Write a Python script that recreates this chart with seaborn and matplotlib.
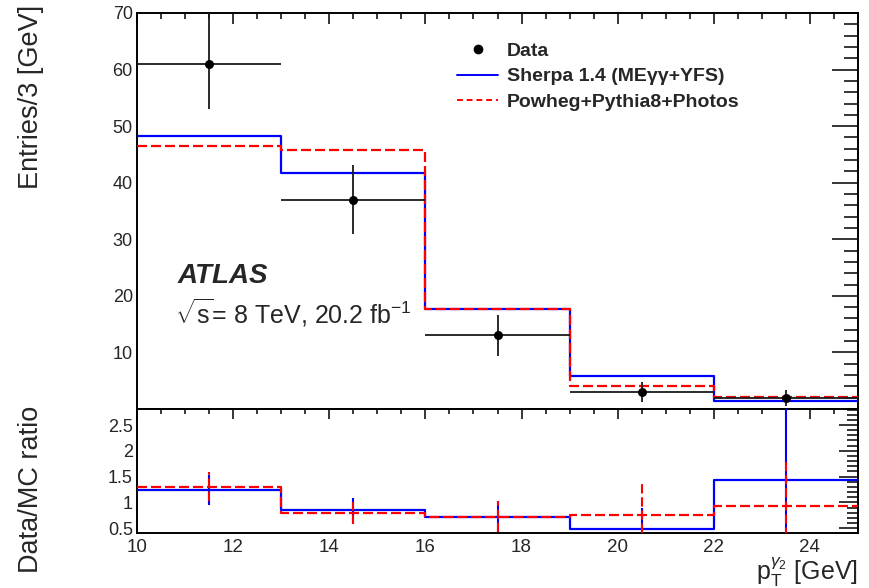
import numpy as np
import pandas as pd
import matplotlib
matplotlib.use("Agg")
import matplotlib.pyplot as plt
import seaborn as sns
from matplotlib.lines import Line2D
from matplotlib.font_manager import FontProperties
from matplotlib.ticker import MultipleLocator, FixedLocator, FuncFormatter

# Binning in photon pT (GeV)
bin_edges = [10, 13, 16, 19, 22, 25]

# Measured events per bin with asymmetric uncertainties
data_counts = [61, 37, 13, 3, 2]
data_err_up = [9.0, 6.2, 3.7, 1.7, 1.4]
data_err_down = [7.9, 6.0, 3.7, 1.7, 1.4]

# Generator predictions per bin
sherpa_pred = [48.3, 41.7, 17.7, 5.8, 1.4]
powheg_pred = [46.5, 45.8, 17.7, 4.0, 2.15]

# Data / MC ratios and their uncertainties
ratio_sherpa = [1.24, 0.85, 0.72, 0.49, 1.44]
ratio_sherpa_err = [0.29, 0.23, 0.30, 0.40, 1.50]
ratio_powheg = [1.30, 0.79, 0.72, 0.75, 0.93]
ratio_powheg_err = [0.28, 0.21, 0.30, 0.60, 0.85]

legend_labels = ["Data", "Sherpa 1.4 (MEγγ+YFS)", "Powheg+Pythia8+Photos"]

sns.set_style("white")
plt.rcParams["font.family"] = ["Liberation Sans", "DejaVu Sans"]
plt.rcParams["mathtext.fontset"] = "custom"
plt.rcParams["mathtext.rm"] = "Liberation Sans"
plt.rcParams["mathtext.it"] = "Liberation Sans:italic"
plt.rcParams["mathtext.bf"] = "Liberation Sans:bold"

BLUE = "#0000ff"
RED = "#ff0000"
DASH = (0, (4.5, 1.8))

edges = np.array(bin_edges, dtype=float)
centers = 0.5 * (edges[:-1] + edges[1:])
half_width = 0.5 * np.diff(edges)


def step_frame(values):
    return pd.DataFrame({"x": edges, "y": list(values) + [values[-1]]})


fig = plt.figure(figsize=(8.7, 5.88), dpi=100)
ax = fig.add_axes([0.1575, 0.3044, 0.8287, 0.6735])
axr = fig.add_axes([0.1575, 0.0930, 0.8287, 0.2114], sharex=ax)

# ---- main panel ----
sns.lineplot(data=step_frame(sherpa_pred), x="x", y="y", ax=ax, color=BLUE,
             lw=1.6, drawstyle="steps-post", sort=False, estimator=None, zorder=3)
sns.lineplot(data=step_frame(powheg_pred), x="x", y="y", ax=ax, color=RED,
             lw=1.6, linestyle=DASH, drawstyle="steps-post", sort=False,
             estimator=None, zorder=4)
ax.errorbar(centers, data_counts, xerr=half_width,
            yerr=[data_err_down, data_err_up], fmt="none",
            ecolor="#1a1a1a", elinewidth=1.3, capsize=0, zorder=5)
sns.scatterplot(x=centers, y=data_counts, ax=ax, color="black", s=42,
                edgecolor="black", linewidth=0, zorder=6)

ax.set_xlim(10, 25)
ax.set_ylim(0, 70)
ax.set_xlabel("")
ax.set_ylabel("Entries/3 [GeV]", fontsize=19.5, loc="top")
ax.yaxis.set_label_coords(-0.129, 1.02)
ax.yaxis.set_major_locator(FixedLocator([10, 20, 30, 40, 50, 60, 70]))
ax.yaxis.set_minor_locator(MultipleLocator(2))
ax.xaxis.set_major_locator(MultipleLocator(2))
ax.xaxis.set_minor_locator(MultipleLocator(0.5))
ax.tick_params(axis="x", which="both", labelbottom=False)
ax.tick_params(axis="y", which="major", length=19, width=1.3)
ax.tick_params(axis="y", which="minor", length=10, width=1.3)
ax.tick_params(axis="x", which="major", length=8, width=1.3)
ax.tick_params(axis="x", which="minor", length=4, width=1.3)
ax.tick_params(which="both", direction="in", top=True, right=True,
               labelsize=13, pad=3)

ax.text(0.056, 0.318, "ATLAS", transform=ax.transAxes, fontsize=20,
        fontweight="bold", fontstyle="italic")
ax.text(0.053, 0.215, r"$\sqrt{\mathrm{s}}$= 8 TeV, 20.2 fb$^{-1}$",
        transform=ax.transAxes, fontsize=18)

handles = [
    Line2D([], [], marker="o", color="black", ls="none", markersize=6),
    Line2D([], [], color=BLUE, lw=1.4),
    Line2D([], [], color=RED, lw=1.4, linestyle=(0, (3, 2))),
]
ax.legend(handles, legend_labels, loc="upper left",
          bbox_to_anchor=(0.42, 0.97), frameon=False,
          prop=FontProperties(family="Liberation Sans", weight="bold", size=14),
          handlelength=2.1, handletextpad=0.45, labelspacing=0.4)

# ---- ratio panel ----
sns.lineplot(data=step_frame(ratio_sherpa), x="x", y="y", ax=axr, color=BLUE,
             lw=1.6, drawstyle="steps-post", sort=False, estimator=None, zorder=3)
sns.lineplot(data=step_frame(ratio_powheg), x="x", y="y", ax=axr, color=RED,
             lw=1.6, linestyle=DASH, drawstyle="steps-post", sort=False,
             estimator=None, zorder=4)
axr.errorbar(centers, ratio_sherpa, yerr=ratio_sherpa_err, fmt="none",
             ecolor=BLUE, elinewidth=1.5, capsize=0, zorder=3)
eb = axr.errorbar(centers, ratio_powheg, yerr=ratio_powheg_err, fmt="none",
                  ecolor=RED, elinewidth=1.5, capsize=0, zorder=4)
eb[2][0].set_linestyle(DASH)

axr.set_ylim(0.4, 2.81)
axr.set_xlim(10, 25)
axr.set_ylabel("Data/MC ratio", fontsize=19.5, loc="top")
axr.yaxis.set_label_coords(-0.129, 1.03)
axr.set_xlabel(r"p$_{\rm T}^{\gamma_{2}}$ [GeV]", fontsize=18, loc="right")
axr.xaxis.set_label_coords(1.0, -0.185)
axr.yaxis.set_major_locator(FixedLocator([0.5, 1.0, 1.5, 2.0, 2.5]))
axr.yaxis.set_minor_locator(MultipleLocator(0.1))
axr.yaxis.set_major_formatter(FuncFormatter(lambda v, _: f"{v:g}"))
axr.xaxis.set_major_locator(FixedLocator([10, 12, 14, 16, 18, 20, 22, 24]))
axr.xaxis.set_minor_locator(MultipleLocator(0.5))
axr.tick_params(axis="y", which="major", length=14, width=1.3)
axr.tick_params(axis="y", which="minor", length=8, width=1.3)
axr.tick_params(axis="x", which="major", length=7, width=1.3)
axr.tick_params(axis="x", which="minor", length=3.5, width=1.3)
axr.tick_params(which="both", direction="in", top=True, right=True,
                labelsize=13, pad=3)
axr.tick_params(axis="x", which="both", pad=4, labelsize=13.5)

for a in (ax, axr):
    for sp in a.spines.values():
        sp.set_linewidth(1.4)
        sp.set_color("black")

fig.savefig("out.png", dpi=100)
